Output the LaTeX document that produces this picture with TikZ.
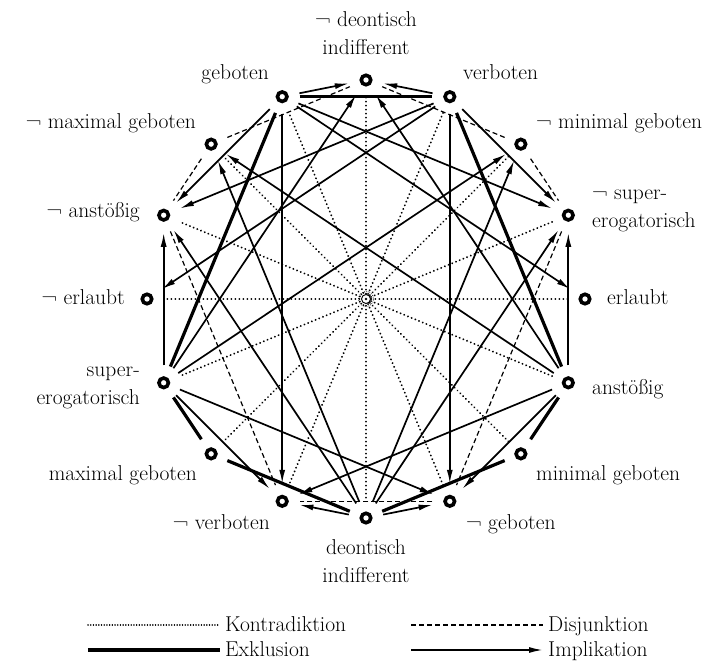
\documentclass[tikz,border=0pt]{standalone}
\usepackage{tikz}
\usetikzlibrary{arrows.meta}
\usetikzlibrary{calc}

\tikzset{
  ring/.style={circle, draw, line width=3.6pt, minimum size=9.5pt, inner sep=0pt},
  lbl/.style={inner sep=0pt, font=\fontsize{21.5}{28}\selectfont},
  contra/.style={draw, line width=2pt, line cap=round, dash pattern=on 0.1pt off 3.9pt},
  disj/.style={draw, line width=1.2pt, dash pattern=on 5pt off 3pt},
  excl/.style={draw, line width=3.2pt},
  impl/.style={draw, line width=1.7pt, -{Latex[length=14pt,width=6pt]}},
  gap/.style={shorten <=11pt, shorten >=11pt}
}

\begin{document}
\begin{tikzpicture}[x=1pt,y=1pt]
  \useasboundingbox (-366,-366) rectangle (351,299);
  \begin{scope}[every node/.style={ring}]
    \node (ndi)  at (90:219) {};
    \node (vb)   at (67.5:219) {};
    \node (nmin) at (45:219) {};
    \node (nsup) at (22.5:219) {};
    \node (erl)  at (0:219) {};
    \node (ans)  at (-22.5:219) {};
    \node (min)  at (-45:219) {};
    \node (ngeb) at (-67.5:219) {};
    \node (di)   at (-90:219) {};
    \node (nvb)  at (-112.5:219) {};
    \node (max)  at (-135:219) {};
    \node (sup)  at (-157.5:219) {};
    \node (nerl) at (180:219) {};
    \node (nans) at (157.5:219) {};
    \node (nmax) at (135:219) {};
    \node (geb)  at (112.5:219) {};
  \end{scope}
  \begin{scope}[every node/.style={lbl}]
    \node[anchor=south, align=center] (l-ndi) at (0,244) {¬ deontisch\\indifferent};
    \node[anchor=base east] (l-geb) at (-97,220) {geboten};
    \node[anchor=base west] (l-vb) at (97,220) {verboten};
    \node[anchor=base east] (l-nmax) at (-170,171) {¬ maximal geboten};
    \node[anchor=base west] (l-nmin) at (170,171) {¬ minimal geboten};
    \node[anchor=base east] (l-nans) at (-226,82) {¬ anstößig};
    \node[anchor=west, align=left] (l-nsup) at (226,88) {¬ super-\\erogatorisch};
    \node[anchor=base east] (l-nerl) at (-241,-5) {¬ erlaubt};
    \node[anchor=base west] (l-erl) at (241,-5) {erlaubt};
    \node[anchor=east, align=right] (l-sup) at (-226,-89) {super-\\erogatorisch};
    \node[anchor=base west] (l-ans) at (226,-95) {anstößig};
    \node[anchor=base east] (l-max) at (-169,-181) {maximal geboten};
    \node[anchor=base west] (l-min) at (170,-181) {minimal geboten};
    \node[anchor=base east] (l-nvb) at (-96,-230) {¬ verboten};
    \node[anchor=base west] (l-ngeb) at (100,-230) {¬ geboten};
    \node[anchor=north, align=center] (l-di) at (0,-240) {deontisch\\indifferent};
  \end{scope}
  \begin{scope}[every edge/.style={contra, gap}]
    \path (ndi) edge (di);
    \path (vb) edge (nvb);
    \path (nmin) edge (max);
    \path (nsup) edge (sup);
    \path (erl) edge (nerl);
    \path (ans) edge (nans);
    \path (min) edge (nmax);
    \path (ngeb) edge (geb);
  \end{scope}
  \begin{scope}[every edge/.style={excl, gap}]
    \path (geb) edge (vb);
    \path (sup) edge (geb);
    \path (ans) edge (vb);
    \path (sup) edge (max);
    \path (ans) edge (min);
    \path (max) edge (di);
    \path (min) edge (di);
  \end{scope}
  \begin{scope}[every edge/.style={disj, gap}]
    \path (ngeb) edge (nvb);
    \path (nmax) edge (ndi);
    \path (nmin) edge (ndi);
    \path (nmax) edge (nans);
    \path (nmin) edge (nsup);
    \path (nans) edge (nvb);
    \path (nsup) edge (ngeb);
  \end{scope}
  \begin{scope}[every edge/.style={impl, gap}]
    \path (geb) edge (ndi);
    \path (vb) edge (ndi);
    \path (sup) edge (ndi);
    \path (ans) edge (ndi);
    \path (di) edge (nvb);
    \path (di) edge (ngeb);
    \path (geb) edge (nvb);
    \path (vb) edge (ngeb);
    \path (sup) edge (nans);
    \path (ans) edge (nsup);
    \path (geb) edge (nans);
    \path (vb) edge (nsup);
    \path (vb) edge (nans);
    \path (geb) edge (nsup);
    \path (geb) edge (erl);
    \path (vb) edge (nerl);
    \path (sup) edge (nvb);
    \path (ans) edge (ngeb);
    \path (sup) edge (ngeb);
    \path (ans) edge (nvb);
    \path (di) edge (nans);
    \path (di) edge (nsup);
    \path (di) edge (nmax);
    \path (di) edge (nmin);
    \path (ans) edge (nmax);
    \path (sup) edge (nmin);
  \end{scope}
  \node[circle, draw, fill=white, line width=0.9pt, minimum size=9pt, inner sep=0pt] (ctr) at (0,0) {};
  \draw[line width=0.9pt, line cap=round, dash pattern=on 0.1pt off 1.8pt] (ctr) circle (7.5pt);
  \fill (ctr) circle (1.3pt);
  \begin{scope}[every node/.style={lbl, anchor=base west}]
    \node (kon) at (-141,-332) {Kontradiktion};
    \node (dis) at (182,-332) {Disjunktion};
    \node (exk) at (-141,-357) {Exklusion};
    \node (imp) at (182,-357) {Implikation};
  \end{scope}
  \coordinate (kon0) at (-278,-326);
  \coordinate (dis0) at (45,-326);
  \coordinate (exk0) at (-278,-351);
  \coordinate (imp0) at (45,-351);
  \draw[contra, line width=1.5pt, dash pattern=on 0.1pt off 2.6pt, shorten >=5pt] (kon0) -- (kon0 -| kon.west);
  \draw[disj, shorten >=5pt] (dis0) -- (dis0 -| dis.west);
  \draw[excl, shorten >=5pt] (exk0) -- (exk0 -| exk.west);
  \draw[impl, shorten >=5pt] (imp0) -- (imp0 -| imp.west);
\end{tikzpicture}
\end{document}
